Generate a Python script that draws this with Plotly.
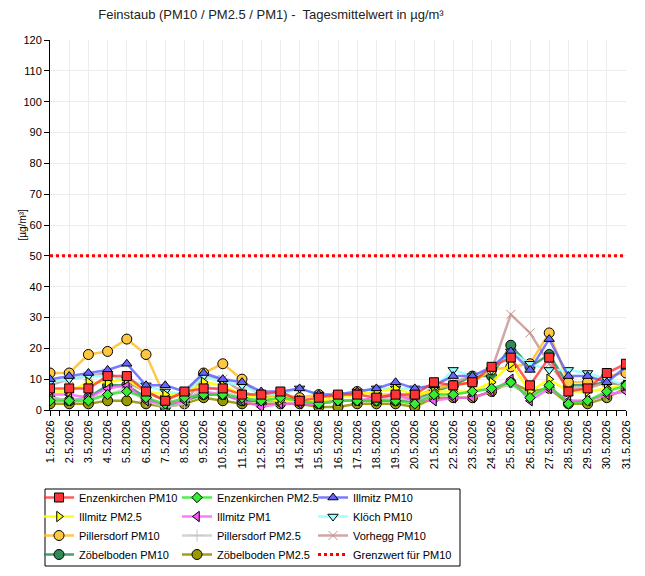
"""
Feinstaub (PM10 / PM2.5 / PM1) - Tagesmittelwerte Mai 2026,
eine Linie je Messstelle, Grenzwert PM10 als rote Punktlinie
"""
import pandas as pd
import plotly.graph_objects as go

dates = pd.date_range("2026-05-01", "2026-05-31", freq="D")

enz_pm10 = [7, 7, 7, 11, 11, 6, 3, 6, 7, 7, 5, 5, 6, 3, 4, 5, 5, 4, 5, 5, 9, 8, 9, 14, 17, 8, 17, 6, 7, 12, 15]
enz_pm25 = [3, 3, 3, 5, 6, 4, 2, 4, 5, 5, 4, 3, 4, 3, 2, 3, 3, 3, 3, 2, 5, 5, 6, 7, 9, 4, 8, 2, 3, 6, 8]
ill_pm10 = [10, 11, 12, 13, 15, 8, 8, 6, 12, 10, 9, 6, 6, 7, 5, 5, 6, 7, 9, 7, 8, 11, 11, 14, 19, 13, 23, 11, 11, 9, 14]
ill_pm25 = [6, 6, 9, 9, 10, 6, 5, 5, 9, 8, 5, 4, 3, 3, 3, 4, 5, 6, 7, 5, 6, 6, 6, 9, 15, 6, 10, 6, 6, 7, 8]
ill_pm1 = [5, 5, 4, 7, 8, 3, 2, 3, 6, 5, 3, 1, 2, 2, 2, 3, 3, 4, 5, 3, 3, 4, 4, 6, 10, 3, 7, 3, 3, 5, 6]
kloech_pm10 = [9, 10, 11, 11, 10, 8, 6, 5, 11, 9, 8, 5, 5, 7, 5, 5, 6, 7, 7, 7, 7, 13, 11, 13, 19, 15, 13, 13, 12, 10, 8]
pil_pm10 = [12, 12, 18, 19, 23, 18, 4, 5, 12, 15, 10, 4, 5, 4, 5, 4, 6, 5, 5, 4, 7, 8, 9, 13, 14, 15, 25, 9, 9, 11, 12]
pil_pm25 = [4, 3, 4, 5, 7, 3, 1, 2, 8, 6, 4, 3, 3, 3, 2, 3, 3, 4, 4, 3, 5, 5, 6, 7, 8, 5, 7, 3, 3, 5, 6]
vorhegg_pm10 = [8, 10, 11, 12, 9, 6, 3, 2, 11, 10, 6, 4, 5, 3, 3, 3, 3, 3, 5, 4, 7, 9, 11, 13, 31, 25, 15, 7, 7, 9, 8]
zoeb_pm10 = [4, 3, 4, 8, 8, 4, 1, 3, 5, 5, 3, 3, 3, 3, 2, 3, 3, 3, 3, 3, 6, 8, 11, 11, 21, 14, 18, 8, 8, 9, 8]
zoeb_pm25 = [2, 2, 2, 3, 3, 2, 1, 2, 4, 3, 2, 2, 2, 2, 1, 1, 2, 2, 2, 1, 4, 4, 4, 6, 9, 6, 7, 2, 2, 4, 7]

grenzwert_pm10 = 50

# name, values, line colour, marker colour, symbol, size, legend column
series = [
    ("Enzenkirchen PM10", enz_pm10, "rgba(255,40,40,0.75)", "#ff3333", "square", 9, "legend"),
    ("Enzenkirchen PM2.5", enz_pm25, "rgba(40,230,40,0.8)", "#33ee33", "diamond", 8, "legend2"),
    ("Illmitz PM10", ill_pm10, "rgba(90,90,255,0.8)", "#6666ff", "triangle-up", 9, "legend3"),
    ("Illmitz PM2.5", ill_pm25, "rgba(255,255,0,0.9)", "#ffff00", "triangle-right", 9, "legend"),
    ("Illmitz PM1", ill_pm1, "rgba(255,90,255,0.8)", "#ff55ff", "triangle-left", 9, "legend2"),
    ("Klöch PM10", kloech_pm10, "rgba(150,255,255,0.9)", "#99ffff", "triangle-down", 9, "legend3"),
    ("Pillersdorf PM10", pil_pm10, "rgba(255,190,40,0.85)", "#ffc640", "circle", 10, "legend"),
    ("Pillersdorf PM2.5", pil_pm25, "rgba(200,200,200,0.8)", "#c8c8c8", "cross-thin", 9, "legend2"),
    ("Vorhegg PM10", vorhegg_pm10, "rgba(200,150,150,0.85)", "#c09090", "x-thin", 9, "legend3"),
    ("Zöbelboden PM10", zoeb_pm10, "rgba(40,140,90,0.85)", "#2e8b57", "circle", 10, "legend"),
    ("Zöbelboden PM2.5", zoeb_pm25, "rgba(150,150,0,0.9)", "#999900", "circle", 10, "legend2"),
]

fig = go.Figure()

# reverse drawing order so the first station ends up on top
for rank, (name, vals, lcol, mcol, sym, size, leg) in reversed(list(enumerate(series))):
    thin = sym.endswith("-thin")
    fig.add_trace(go.Scatter(
        x=dates, y=vals, name=name, mode="lines+markers",
        line=dict(color=lcol, width=2.5),
        marker=dict(symbol=sym, size=size, color=mcol,
                    line=dict(color=mcol if thin else "black", width=1)),
        legend=leg, legendrank=rank + 1,
    ))

fig.add_shape(type="line", xref="paper", x0=0, x1=1, y0=grenzwert_pm10, y1=grenzwert_pm10,
              line=dict(color="red", width=3, dash="dot"),
              showlegend=True, name="Grenzwert für PM10", legend="legend3", legendrank=100)

# the page body has an 8px margin, so the figure is drawn 8px smaller
W, H = 629, 560
L, T, PW, PH = 42, 32, 576, 370

# frame around the three legend columns
fig.add_shape(type="rect", xref="paper", yref="paper",
              x0=(37 - L) / PW, x1=(452 - L) / PW,
              y0=(T + PH - 558) / PH, y1=(T + PH - 481) / PH,
              line=dict(color="black", width=1), fillcolor="rgba(0,0,0,0)")

# y axis label
fig.add_annotation(text="[µg/m³]", xref="paper", yref="paper",
                   x=(6 - L) / PW, y=0.5, textangle=-90, showarrow=False,
                   font=dict(size=10, color="black"))

leg_style = dict(xref="container", yref="container", yanchor="top", xanchor="left",
                 y=1 - 475 / H, bgcolor="rgba(0,0,0,0)",
                 font=dict(size=11, color="black"), itemwidth=30, tracegroupgap=0)

fig.update_layout(
    width=W, height=H,
    margin=dict(l=L, r=W - L - PW, t=T, b=H - T - PH, autoexpand=False),
    paper_bgcolor="white", plot_bgcolor="white",
    font=dict(family="Liberation Sans, Arial", size=11, color="black"),
    title=dict(text="Feinstaub (PM10 / PM2.5 / PM1) -  Tagesmittelwert in µg/m³",
               x=263 / W, xref="container", xanchor="center", y=1 - 6 / H, yanchor="middle",
               font=dict(size=13, color="#222222")),
    legend=dict(x=31 / W, **leg_style),
    legend2=dict(x=169 / W, **leg_style),
    legend3=dict(x=305 / W, **leg_style),
    xaxis=dict(
        range=[dates[0], dates[-1]], dtick=86400000, tick0=dates[0],
        tickformat="%-d.%-m.%Y", tickangle=-90,
        ticks="outside", ticklen=5, tickcolor="black",
        minor=dict(dtick=43200000, ticks="outside", ticklen=5, tickcolor="black", showgrid=False),
        showgrid=True, gridcolor="#ececec", gridwidth=1,
        showline=True, linecolor="black", linewidth=1, zeroline=False,
        tickfont=dict(size=11),
    ),
    yaxis=dict(
        range=[0, 120], dtick=10, ticks="outside", ticklen=5, tickcolor="black",
        showgrid=True, gridcolor="#ececec", gridwidth=1,
        showline=True, linecolor="black", linewidth=1, zeroline=False,
        tickfont=dict(size=11),
    ),
)

fig.write_html("out.html")
